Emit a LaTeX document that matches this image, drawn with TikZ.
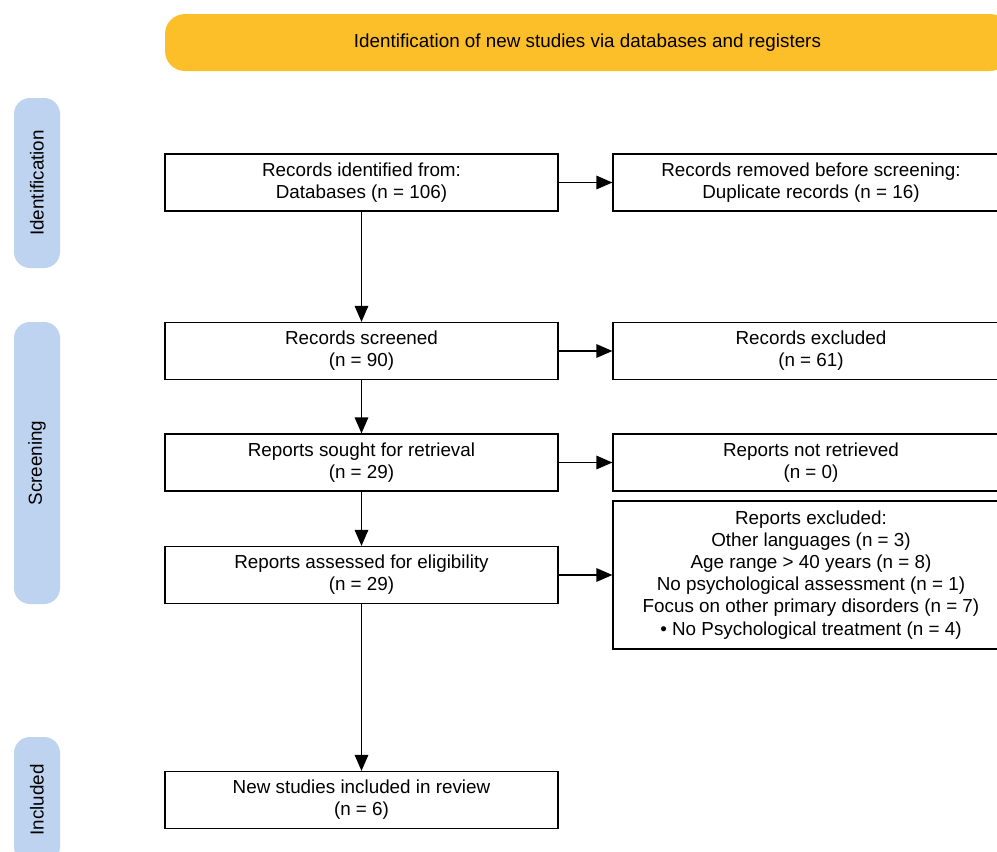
\documentclass[tikz,border=0pt]{standalone}
\usepackage{fontspec}
\setmainfont{Liberation Sans}
\usepackage{tikz}
\usetikzlibrary{arrows.meta}
\definecolor{bannerYellow}{HTML}{FCBE29}
\definecolor{phaseBlue}{HTML}{BED3EF}

\begin{document}
\begin{tikzpicture}[x=1cm, y=1cm,
	txt/.style={font=\fontsize{13.4}{15.7}\selectfont, align=center},
	leftbox/.style={txt, draw, line width=0.9pt, minimum width=9.825cm, minimum height=1.425cm, inner sep=0pt},
	rightbox/.style={txt, draw, line width=0.9pt, minimum width=9.9cm, minimum height=1.425cm, inner sep=0pt},
	phase/.style={txt, fill=phaseBlue, rounded corners=0.4cm, minimum height=1.15cm, inner sep=0pt, rotate=90},
	flow/.style={line width=0.9pt, -{Triangle[length=0.4cm, width=0.34cm]}}]
	\useasboundingbox (0,0) rectangle (24.925,-21.3);
	\clip (0,0) rectangle (24.925,-21.3);

	\node[txt, fill=bannerYellow, rounded corners=0.5cm, minimum width=21.125cm, minimum height=1.425cm] (banner) at (14.6875,-1.0625) {Identification of new studies via databases and registers};

	\node[phase, minimum width=4.25cm] (idlab) at (0.925,-4.575) {Identification};
	\node[phase, minimum width=7.05cm] (scrlab) at (0.925,-11.575) {Screening};
	\node[phase, minimum width=3.15cm] (inclab) at (0.925,-20.0) {Included};

	\node[leftbox] (ident) at (9.0375,-4.5625) {Records identified from:\\Databases (n = 106)};
	\node[leftbox] (screened) at (9.0375,-8.775) {Records screened\\(n = 90)};
	\node[leftbox] (sought) at (9.0375,-11.5625) {Reports sought for retrieval\\(n = 29)};
	\node[leftbox] (assessed) at (9.0375,-14.375) {Reports assessed for eligibility\\(n = 29)};
	\node[leftbox] (included) at (9.0375,-20.0) {New studies included in review\\(n = 6)};

	\node[rightbox] (removed) at (20.275,-4.5625) {Records removed before screening:\\Duplicate records (n = 16)};
	\node[rightbox] (excluded) at (20.275,-8.775) {Records excluded\\(n = 61)};
	\node[rightbox] (notretr) at (20.275,-11.5625) {Reports not retrieved\\(n = 0)};
	\node[rightbox, minimum height=3.7cm] (repexcl) at (20.275,-14.375) {Reports excluded:\\Other languages (n = 3)\\Age range > 40 years (n = 8)\\No psychological assessment (n = 1)\\Focus on other primary disorders (n = 7)\\\textbullet\ No Psychological treatment (n = 4)};

	\draw[flow] (ident) -- (screened);
	\draw[flow] (screened) -- (sought);
	\draw[flow] (sought) -- (assessed);
	\draw[flow] (assessed) -- (included);

	\draw[flow] (ident) -- (removed);
	\draw[flow] (screened) -- (excluded);
	\draw[flow] (sought) -- (notretr);
	\draw[flow] (assessed) -- (repexcl);

\end{tikzpicture}
\end{document}
